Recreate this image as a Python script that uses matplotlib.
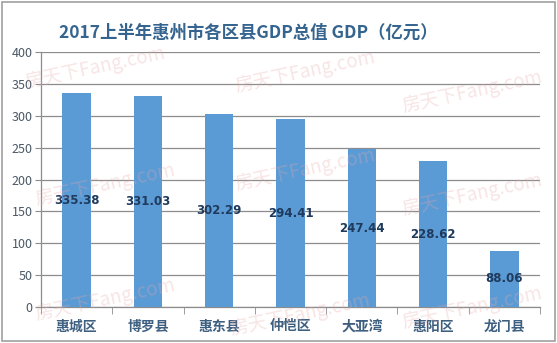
import matplotlib

matplotlib.use("Agg")
import matplotlib.pyplot as plt
from matplotlib.patches import Rectangle
from matplotlib.ticker import FixedLocator, MultipleLocator

plt.rcParams["font.family"] = ["Noto Sans CJK SC", "DejaVu Sans"]

districts = ["惠城区", "博罗县", "惠东县", "仲恺区", "大亚湾", "惠阳区", "龙门县"]
gdp = [335.38, 331.03, 302.29, 294.41, 247.44, 228.62, 88.06]
title = "2017上半年惠州市各区县GDP总值 GDP（亿元）"
watermark = "房天下Fang.com"

BAR = "#5b9bd5"
GRID = "#8c8c8c"

fig = plt.figure(figsize=(5.57, 3.43), dpi=100)
ax = fig.add_axes([0.0736, 0.105, 0.896, 0.743])

# faint site watermarks behind the plot
for wx, wy in [(95, 68), (305, 72), (472, 92), (105, 185), (305, 170),
               (472, 195), (105, 300), (300, 315), (472, 308)]:
    fig.text(wx / 557, 1 - wy / 343, watermark, fontsize=13.5, color="#e9a8a8",
             alpha=0.3, rotation=12, ha="center", va="center", zorder=0)

x = range(len(districts))
ax.bar(x, gdp, width=0.4, color=BAR, zorder=3)
for xi, v in zip(x, gdp):
    ax.text(xi, v / 2, f"{v:.2f}", ha="center", va="center", fontsize=8.5,
            color="#1f3a5c", family="DejaVu Sans", fontweight="semibold", zorder=4)

ax.set_xlim(-0.5, len(districts) - 0.5)
ax.set_ylim(0, 400)
ax.yaxis.set_major_locator(MultipleLocator(50))
ax.set_xticks(list(x))
ax.set_xticklabels(districts, fontsize=10, fontweight="bold", color="#3d5f80")
ax.xaxis.set_minor_locator(FixedLocator([i - 0.5 for i in range(len(districts) + 1)]))
ax.tick_params(axis="x", which="major", length=0, pad=9)
ax.tick_params(axis="x", which="minor", length=5, color=GRID, direction="out")
ax.tick_params(axis="y", length=4, color=GRID, labelsize=9, labelcolor="#4a5866", pad=2)

ax.grid(axis="y", color=GRID, linewidth=0.9, zorder=1)
ax.set_axisbelow(True)
for side in ("top", "right"):
    ax.spines[side].set_visible(False)
for side in ("left", "bottom"):
    ax.spines[side].set_color(GRID)
    ax.spines[side].set_linewidth(0.9)
ax.patch.set_alpha(0)

fig.text(0.446, 0.905, title, fontsize=12.5, fontweight="bold", color="#35648f",
         ha="center", va="center")

fig.patches.append(Rectangle((0.004, 0.006), 0.992, 0.988, transform=fig.transFigure,
                             fill=False, edgecolor="#a0a0a0", linewidth=1.2))

fig.savefig("out.png", dpi=100)
